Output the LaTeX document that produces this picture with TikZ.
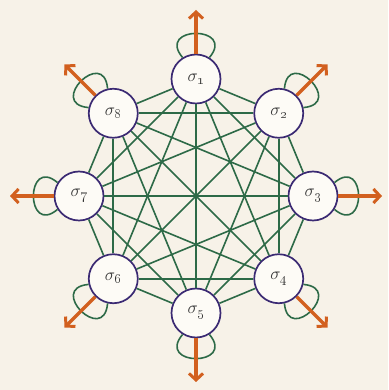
\documentclass[tikz,border=0pt]{standalone}
\usetikzlibrary{arrows.meta,calc}
\definecolor{bgc}{HTML}{F7F2E8}
\definecolor{edgec}{HTML}{2D6A47}
\definecolor{nodec}{HTML}{3B2A73}
\definecolor{arrc}{HTML}{D2601F}
\definecolor{nodefill}{HTML}{FDFBF6}
\tikzset{
  statenode/.style={circle,draw=nodec,line width=1.7pt,fill=nodefill,minimum size=49pt,inner sep=0pt,text=black!80},
  edgeline/.style={draw=edgec,line width=1.6pt},
  outarrow/.style={draw=arrc,line width=3.2pt,-{Straight Barb[length=6.5pt,width=14pt,line width=3pt]}},
}
\newcommand{\siglab}[1]{{\LARGE$\sigma$}\kern-0.5pt\raisebox{-3pt}{\Large\oldstylenums{#1}}}
\begin{document}
\begin{tikzpicture}[x=1pt,y=1pt]
\fill[bgc] (0,0) rectangle (388,390);
\useasboundingbox (0,0) rectangle (388,390);
\coordinate (c) at (196,194);
% nodes
\foreach \i/\a in {1/90,2/45,3/0,4/-45,5/-90,6/-135,7/180,8/135}{
  \node[statenode] (s\i) at ($(c)+(\a:117)$) {\siglab{\i}};
}
% complete graph edges
\foreach \i in {1,...,8}{
  \foreach \j in {1,...,8}{
    \ifnum\i<\j
      \draw[edgeline] (s\i) -- (s\j);
    \fi
  }
}
% self loops and outward arrows
\foreach \i/\a in {1/90,2/45,3/0,4/-45,5/-90,6/-135,7/180,8/135}{
  \draw[edgeline] (s\i.\a+32) to[out=\a+40,in=\a-40,distance=42pt] (s\i.\a-32);
  \coordinate (ae\i) at ($(s\i.center)+(\a:69)$);
  \draw[outarrow] (s\i.\a) -- (ae\i);
}
\end{tikzpicture}
\end{document}
